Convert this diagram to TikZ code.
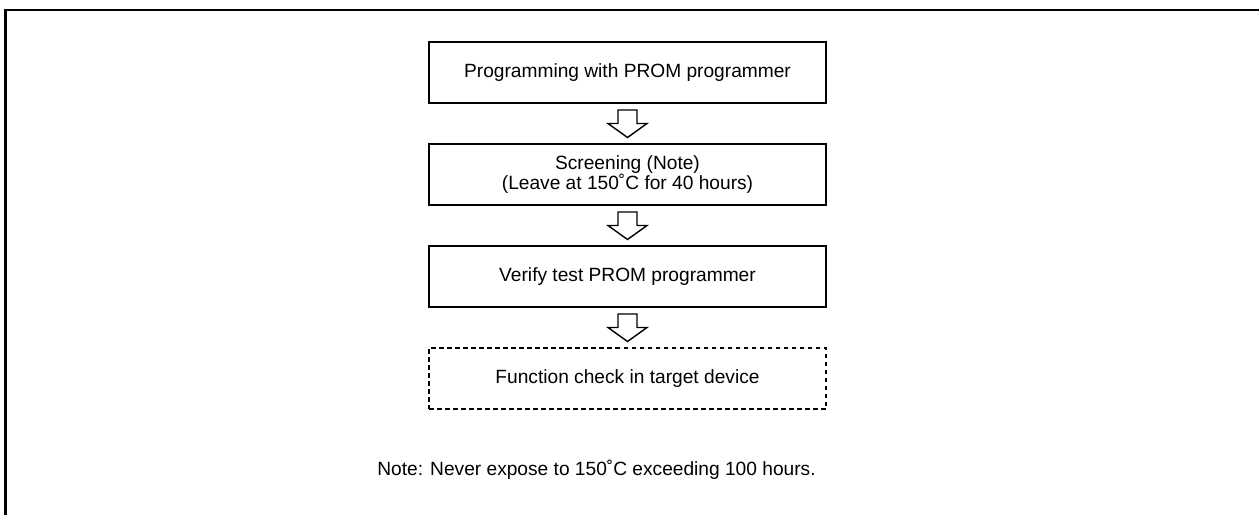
\documentclass[tikz,border=0pt]{standalone}
\usepackage{fontspec}
\setmainfont{Liberation Sans}
\usepackage{tikz}
\usetikzlibrary{calc}
\tikzset{box/.style = {shape = rectangle, draw, line width = 0.9pt, minimum width = 7.94cm, minimum height = 1.22cm, align = center, font = \fontsize{10.9}{11.8}\selectfont}}
\tikzset{optbox/.style = {box, dash pattern = on 0.09cm off 0.07cm}}
\tikzset{flow/.style = {draw, line width = 0.8pt, fill = white, to path = {let \p1 = ($(\tikztostart)!0.5!(\tikztotarget)$) in
  (\x1-0.19cm,\y1+0.27cm) -- (\x1+0.19cm,\y1+0.27cm) -- (\x1+0.19cm,\y1) -- (\x1+0.39cm,\y1)
  -- (\x1,\y1-0.28cm) -- (\x1-0.39cm,\y1) -- (\x1-0.19cm,\y1) -- cycle}}}
\begin{document}
\begin{tikzpicture}
			\useasboundingbox (0, 0) rectangle (25.18, -10.30);
			\draw[line width = 1.2pt] (0.11, -10.30) -- (0.11, -0.2) -- (25.18, -0.2);

			\node[box] (prog) at (12.55, -1.45) {Programming with PROM programmer};
			\node[box] (screen) at (12.55, -3.49) {Screening (Note)\\(Leave at 150˚C for 40 hours)};
			\node[box] (verify) at (12.55, -5.53) {Verify test PROM programmer};
			\node[optbox] (check) at (12.55, -7.57) {Function check in target device};
			\node[font = \fontsize{10.9}{13}\selectfont] (note) at (11.93, -9.4) {Note: Never expose to 150˚C exceeding 100 hours.};

			\draw[flow] (prog.south) to (screen.north);
			\draw[flow] (screen.south) to (verify.north);
			\draw[flow] (verify.south) to (check.north);
		\end{tikzpicture}
\end{document}
